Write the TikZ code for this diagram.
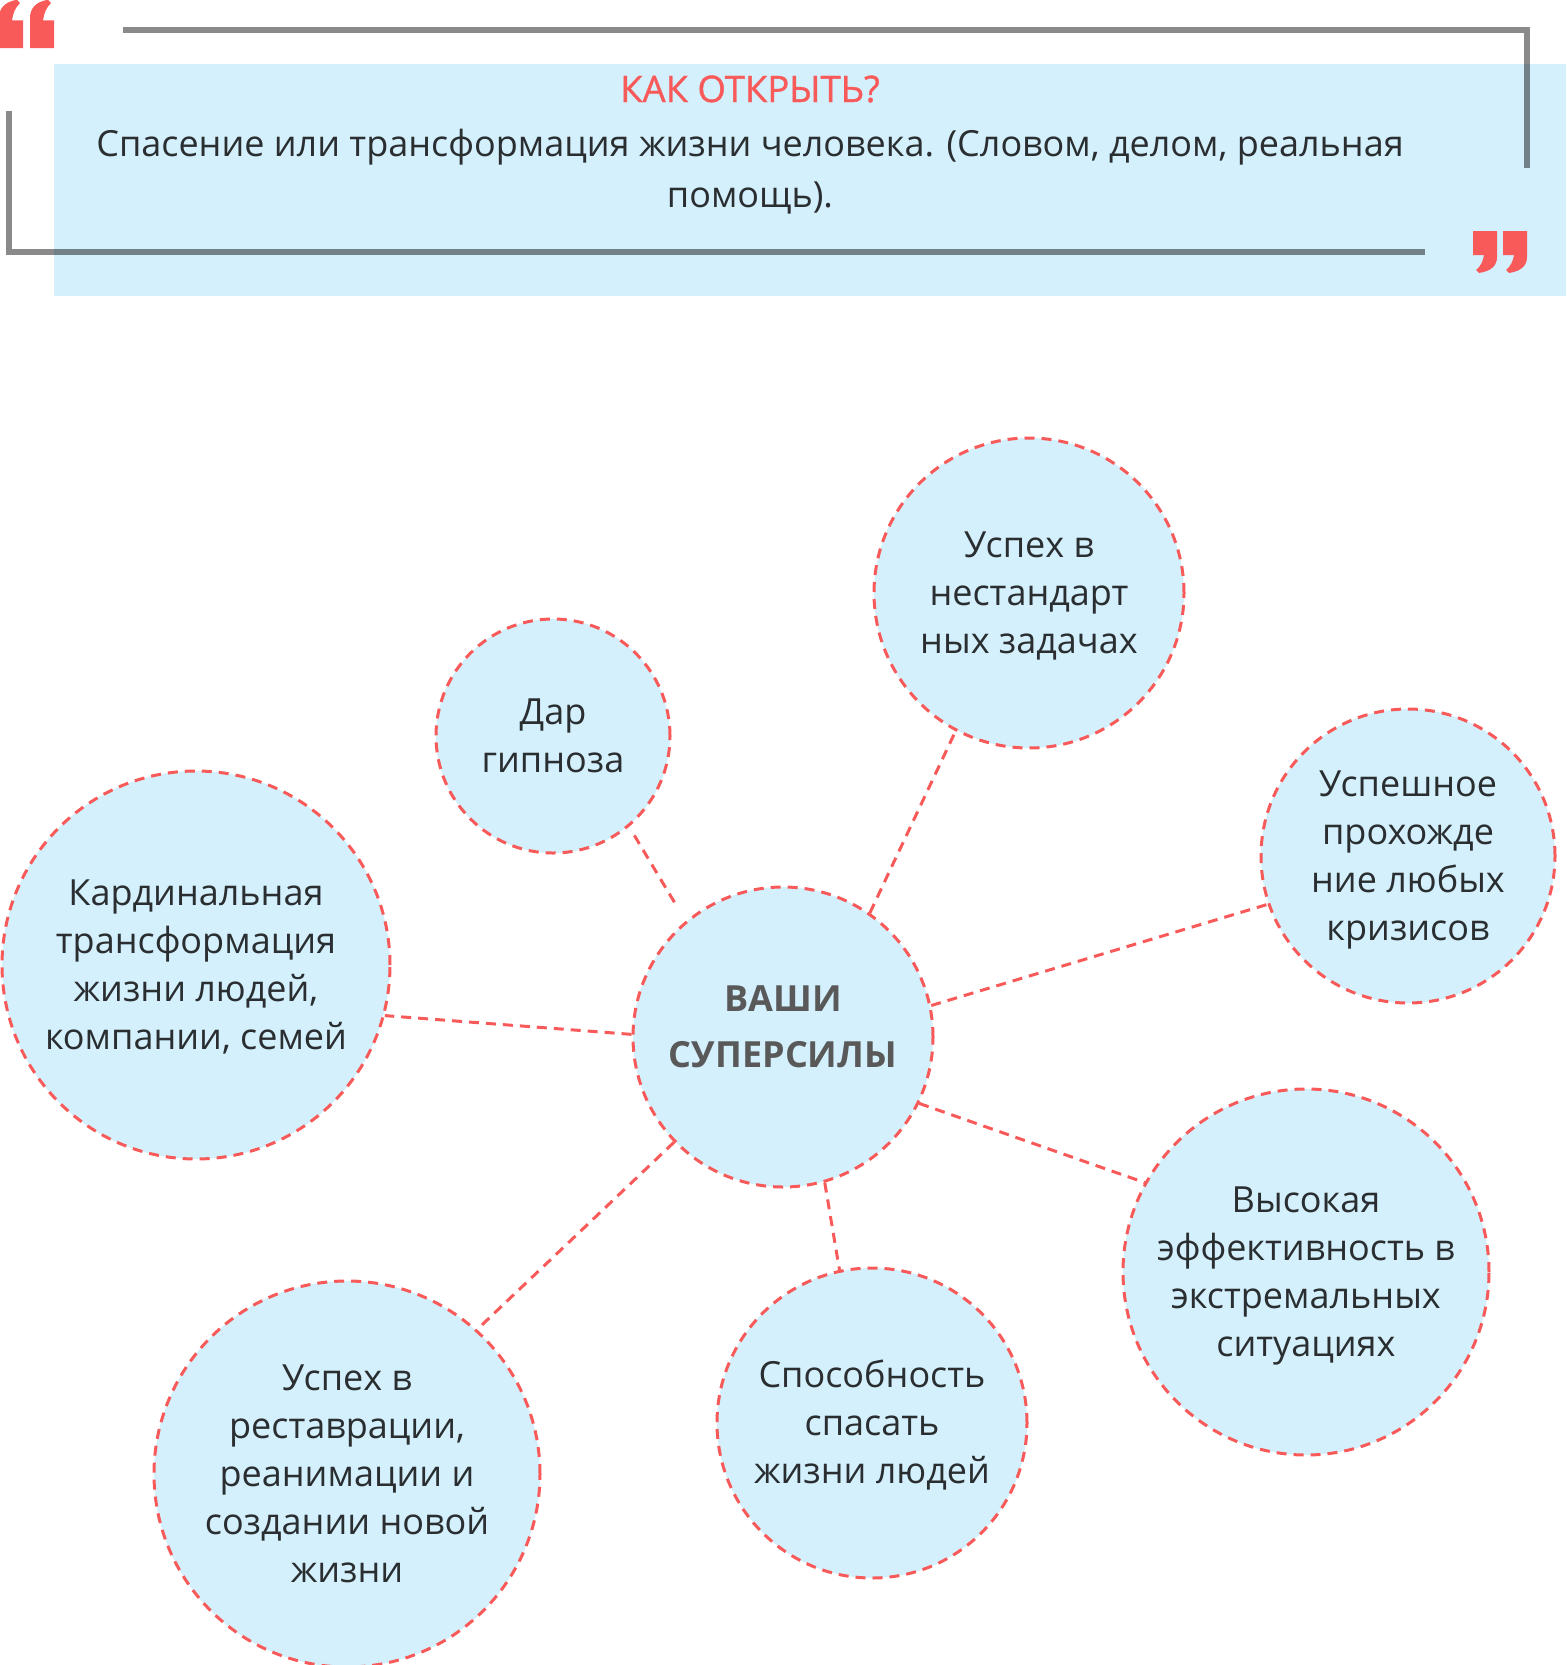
\documentclass[tikz,border=0pt]{standalone}
\usepackage{fontspec}
\setmainfont{Open Sans}
\definecolor{qred}{HTML}{F85A5A}
\definecolor{qblue}{HTML}{D3F0FC}
\definecolor{qink}{HTML}{2A2E30}
\definecolor{qgray}{HTML}{595959}
\newcommand\liftline{\rule{0pt}{44pt}}

\begin{document}
\begin{tikzpicture}[x=1pt,y=-1pt,
    power/.style={circle, draw=qred, fill=qblue, line width=3pt,
      dash pattern=on 10pt off 7pt, inner sep=0pt, align=center,
      text=qink, font=\fontsize{36}{48}\selectfont,
      execute at end node={\rule[-20pt]{0pt}{1pt}}},
    link/.style={qred, line width=3pt, dash pattern=on 10pt off 7pt},
    bracket/.style={black, opacity=0.46, line width=6pt},
    qmark/.pic={\fill[qred] (0,0) -- (24,0) -- (24,26) .. controls (24,34) and (19,40) .. (6,42)
      -- (3,39) .. controls (8,35) and (10,30) .. (11,24) -- (0,24) -- cycle;}]
  \useasboundingbox (0,0) rectangle (1566,1665);

  % header
  \fill[qblue] (54,64) rectangle (1566,296);
  \draw[bracket] (123,30) -- (1527,30) -- (1527,168);
  \draw[bracket] (9,111) -- (9,252) -- (1425,252);
  \pic[rotate=180, yscale=1.15] at (23,48) {qmark};
  \pic[rotate=180, yscale=1.15] at (54,48) {qmark};
  \pic at (1473,231) {qmark};
  \pic at (1503,231) {qmark};
  \node[text=qred, font=\fontsize{36.5}{36}\selectfont\addfontfeatures{FakeBold=1}, anchor=base] (head) at (750,102) {КАК ОТКРЫТЬ?};
  \node[text=qink, font=\fontsize{36}{51}\selectfont, align=center] (body) at (750,172)
    {Спасение или трансформация жизни человека. (Словом, делом, реальная\\помощь).};

  % circles
  \node[power, minimum size=300pt, text=qgray, font=\fontsize{36}{56}\bfseries\selectfont,
    execute at end node={\strut}] (sup) at (783,1037) {ВАШИ\\СУПЕРСИЛЫ};
  \node[power, minimum size=234pt] (gipn) at (553,736) {\liftline Дар\\гипноза};
  \node[power, minimum size=310pt] (nest) at (1029,593) {\liftline Успех в\\нестандарт\\ных задачах};
  \node[power, minimum size=294pt] (kriz) at (1408,856) {\liftline Успешное\\прохожде\\ние любых\\кризисов};
  \node[power, minimum size=388pt] (kard) at (196,965) {\liftline Кардинальная\\трансформация\\жизни людей,\\компании, семей};
  \node[power, minimum size=366pt] (ekst) at (1306,1272) {\liftline Высокая\\эффективность в\\экстремальных\\ситуациях};
  \node[power, minimum size=310pt] (spas) at (872,1423) {\liftline Способность\\спасать\\жизни людей};
  \node[power, minimum size=386pt] (rest) at (347,1474) {\liftline Успех в\\реставрации,\\реанимации и\\создании новой\\жизни};

  % links
  \draw[link] (sup.179) -- (kard.345);
  \draw[link, shorten <=10pt, shorten >=17pt] (gipn.310) -- (sup.130);
  \draw[link] (sup.55) -- (nest.242);
  \draw[link] (sup.12) -- (kriz.199);
  \draw[link] (sup.334) -- (ekst.151);
  \draw[link] (sup.286) -- (spas.102);
  \draw[link] (sup.224) -- (rest.48);
\end{tikzpicture}
\end{document}
